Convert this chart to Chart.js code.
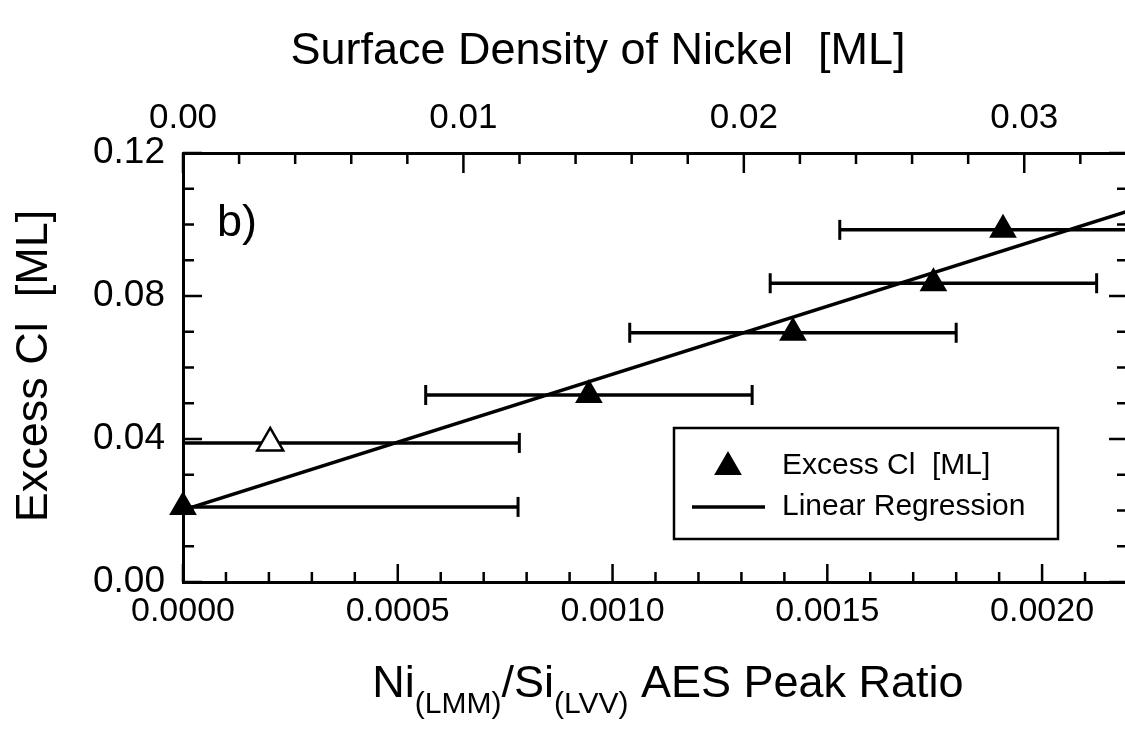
<!DOCTYPE html>
<html>
<head>
<meta charset="utf-8">
<script src="https://cdn.jsdelivr.net/npm/chart.js@4/dist/chart.umd.min.js"></script>
<style>
  html, body { margin: 0; padding: 0; background: #fff; overflow: hidden; }
  #wrap { width: 1160px; height: 744px; }
</style>
</head>
<body>
<div id="wrap"><canvas id="chart" width="1160" height="744"></canvas></div>
<script>
// data
const aesRatio  = [0.0000, 0.000203, 0.000945, 0.001420, 0.001747, 0.001909];
const excessCl  = [0.0210, 0.0389, 0.0523, 0.0697, 0.0836, 0.0985];
const ratioErr  = [0.00078, 0.00058, 0.00038, 0.00038, 0.00038, 0.00038];
const openPoint = [false, true, false, false, false, false];

const regX = [0.0000, 0.0022];
const regY = [0.0201, 0.1037];

// axes
const xTicks  = [0.0000, 0.0005, 0.0010, 0.0015, 0.0020];
const x2Ticks = [0.00, 0.01, 0.02, 0.03];
const yTicks  = [0.00, 0.04, 0.08, 0.12];
const X_MAX = 0.0022, X2_MAX = 0.0337, Y_MAX = 0.12;

const FONT = '"Liberation Sans", Arial, sans-serif';

const filledPts = [], openPts = [];
aesRatio.forEach((x, i) => {
  (openPoint[i] ? openPts : filledPts).push({ x: x, y: excessCl[i] });
});

// inward tick marks on all four sides
const tickMarks = {
  id: 'tickMarks',
  afterDatasetsDraw(chart) {
    const ctx = chart.ctx, a = chart.chartArea;
    const sx = chart.scales.x, sx2 = chart.scales.x2, sy = chart.scales.y;
    ctx.save();
    ctx.strokeStyle = '#000';
    ctx.lineWidth = 2.5;
    ctx.beginPath();
    for (let i = 0; i <= 22; i++) {
      const px = sx.getPixelForValue(i * 0.0001);
      const len = i % 5 === 0 ? 18 : 10;
      ctx.moveTo(px, a.bottom); ctx.lineTo(px, a.bottom - len);
    }
    for (let i = 0; i <= 16; i++) {
      const px = sx2.getPixelForValue(i * 0.002);
      const len = i % 5 === 0 ? 20 : 11;
      ctx.moveTo(px, a.top); ctx.lineTo(px, a.top + len);
    }
    for (let i = 0; i <= 12; i++) {
      const py = sy.getPixelForValue(i * 0.01);
      const len = i % 4 === 0 ? 19 : 11;
      ctx.moveTo(a.left, py); ctx.lineTo(a.left + len, py);
      ctx.moveTo(a.right, py); ctx.lineTo(a.right - len, py);
    }
    ctx.stroke();
    ctx.restore();
  }
};

// horizontal error bars with caps, clipped to the frame
const errorBars = {
  id: 'errorBars',
  beforeDatasetsDraw(chart) {
    const ctx = chart.ctx, a = chart.chartArea;
    const sx = chart.scales.x, sy = chart.scales.y;
    ctx.save();
    ctx.strokeStyle = '#000';
    ctx.lineWidth = 3.5;
    aesRatio.forEach((x, i) => {
      const y = sy.getPixelForValue(excessCl[i]);
      const x0 = sx.getPixelForValue(x - ratioErr[i]);
      const x1 = sx.getPixelForValue(x + ratioErr[i]);
      ctx.beginPath();
      ctx.moveTo(Math.max(x0, a.left), y);
      ctx.lineTo(Math.min(x1, a.right), y);
      ctx.stroke();
      ctx.beginPath();
      ctx.lineWidth = 3;
      if (x0 >= a.left) { ctx.moveTo(x0, y - 10); ctx.lineTo(x0, y + 10); }
      if (x1 <= a.right) { ctx.moveTo(x1, y - 10); ctx.lineTo(x1, y + 10); }
      ctx.stroke();
      ctx.lineWidth = 3.5;
    });
    ctx.restore();
  }
};

// axis titles, panel tag and boxed legend
const annotations = {
  id: 'annotations',
  afterDraw(chart) {
    const ctx = chart.ctx, a = chart.chartArea;
    ctx.save();
    ctx.fillStyle = '#000';
    ctx.strokeStyle = '#000';

    ctx.font = '45px ' + FONT;
    ctx.textAlign = 'center';
    ctx.textBaseline = 'alphabetic';
    ctx.fillText('Surface Density of Nickel  [ML]', 598, 64);

    ctx.textAlign = 'left';
    ctx.fillText('b)', a.left + 34, a.top + 83);

    // x title with subscripts
    const parts = [
      ['Ni', 45, 0], ['(LMM)', 30, 16], ['/Si', 45, 0], ['(LVV)', 30, 16], [' AES Peak Ratio', 45, 0]
    ];
    let total = 0;
    parts.forEach(p => { ctx.font = p[1] + 'px ' + FONT; total += ctx.measureText(p[0]).width; });
    let cx = 668 - total / 2;
    parts.forEach(p => {
      ctx.font = p[1] + 'px ' + FONT;
      ctx.fillText(p[0], cx, 697 + p[2]);
      cx += ctx.measureText(p[0]).width;
    });

    // y title
    ctx.save();
    ctx.translate(47, 366);
    ctx.rotate(-Math.PI / 2);
    ctx.font = '45px ' + FONT;
    ctx.textAlign = 'center';
    ctx.fillText('Excess Cl  [ML]', 0, 0);
    ctx.restore();

    // legend box
    const lx = a.left + 491, ly = a.top + 275, lw = 384, lh = 111;
    ctx.fillStyle = '#fff';
    ctx.fillRect(lx, ly, lw, lh);
    ctx.lineWidth = 2.5;
    ctx.strokeRect(lx, ly, lw, lh);
    ctx.fillStyle = '#000';
    const ds = chart.data.datasets;
    Chart.helpers.drawPoint(ctx, { pointStyle: 'triangle', radius: 16, borderWidth: 0, rotation: 0 }, lx + 54, ly + 39);
    ctx.beginPath();
    ctx.lineWidth = 3.5;
    ctx.moveTo(lx + 18, ly + 79); ctx.lineTo(lx + 91, ly + 79);
    ctx.stroke();
    ctx.font = '30px ' + FONT;
    ctx.textAlign = 'left';
    ctx.textBaseline = 'middle';
    ctx.fillText(ds[0].label, lx + 108, ly + 38);
    ctx.fillText(ds[2].label, lx + 108, ly + 79);
    ctx.restore();
  }
};

new Chart(document.getElementById('chart'), {
  type: 'scatter',
  data: {
    datasets: [
      {
        label: 'Excess Cl  [ML]',
        data: filledPts,
        pointStyle: 'triangle',
        pointRadius: 16,
        backgroundColor: '#000',
        borderColor: '#000',
        borderWidth: 0,
        clip: false,
        order: 1
      },
      {
        label: 'Excess Cl (open)',
        data: openPts,
        pointStyle: 'triangle',
        pointRadius: 15,
        backgroundColor: '#fff',
        borderColor: '#000',
        borderWidth: 2.5,
        clip: false,
        order: 1
      },
      {
        label: 'Linear Regression',
        type: 'line',
        data: regX.map((x, i) => ({ x: x, y: regY[i] })),
        borderColor: '#000',
        borderWidth: 3.5,
        pointRadius: 0,
        fill: false,
        order: 2
      }
    ]
  },
  options: {
    responsive: false,
    animation: false,
    layout: { padding: 0 },
    plugins: {
      legend: { display: false },
      tooltip: { enabled: false }
    },
    scales: {
      x: {
        type: 'linear',
        position: 'bottom',
        min: 0,
        max: X_MAX,
        afterBuildTicks: s => { s.ticks = xTicks.map(v => ({ value: v })); },
        afterFit: s => { s.height = 744 - 582; },
        grid: { display: false, drawTicks: false },
        border: { display: true, color: '#000', width: 3 },
        ticks: { font: { family: FONT, size: 34 }, color: '#000', padding: 9, maxRotation: 0, callback: v => v.toFixed(4) }
      },
      x2: {
        type: 'linear',
        position: 'top',
        min: 0,
        max: X2_MAX,
        afterBuildTicks: s => { s.ticks = x2Ticks.map(v => ({ value: v })); },
        afterFit: s => { s.height = 153; },
        grid: { display: false, drawTicks: false },
        border: { display: true, color: '#000', width: 3 },
        ticks: { font: { family: FONT, size: 35 }, color: '#000', padding: 14, maxRotation: 0, callback: v => v.toFixed(2) }
      },
      y: {
        type: 'linear',
        position: 'left',
        min: 0,
        max: Y_MAX,
        afterBuildTicks: s => { s.ticks = yTicks.map(v => ({ value: v })); },
        afterFit: s => { s.width = 183; },
        grid: { display: false, drawTicks: false },
        border: { display: true, color: '#000', width: 3 },
        ticks: { font: { family: FONT, size: 37 }, color: '#000', padding: 18, callback: v => v.toFixed(2) }
      },
      y2: {
        type: 'linear',
        position: 'right',
        min: 0,
        max: Y_MAX,
        afterFit: s => { s.width = 1160 - 1128; },
        grid: { display: false, drawTicks: false },
        border: { display: true, color: '#000', width: 3 },
        ticks: { display: false }
      }
    }
  },
  plugins: [errorBars, tickMarks, annotations]
});
</script>
</body>
</html>
